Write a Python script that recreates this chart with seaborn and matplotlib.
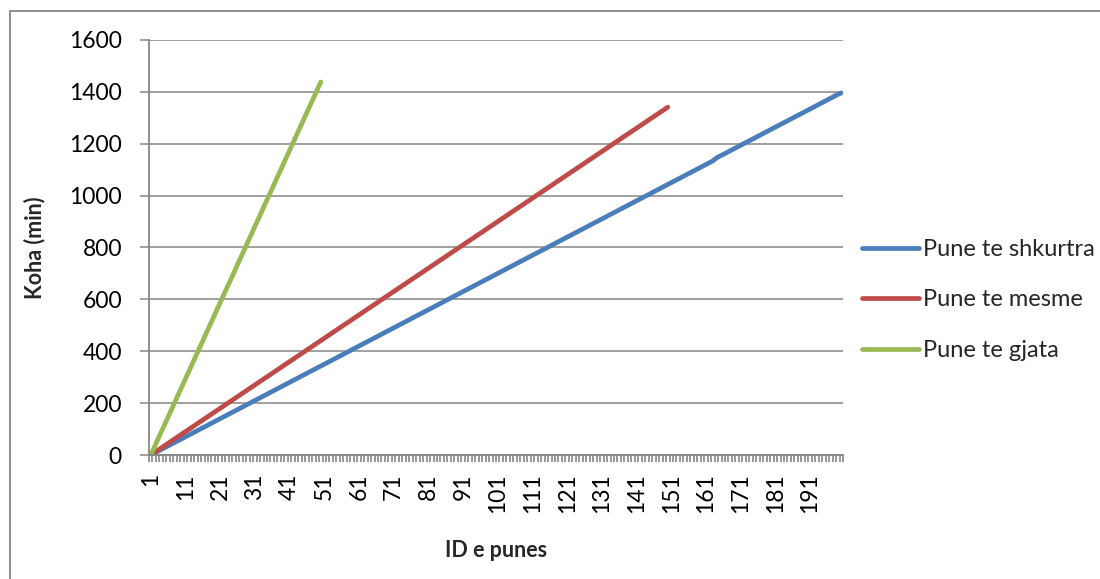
import numpy as np
import pandas as pd
import matplotlib
matplotlib.use("Agg")
import matplotlib.pyplot as plt
from matplotlib.patches import Rectangle
import seaborn as sns

# Cumulative completion time (minutes) for each job, by job class
short_jobs = [
    0, 7, 14, 21, 28, 35, 42, 49, 56, 63,
    70, 77, 84, 91, 98, 105, 112, 119, 126, 133,
    140, 147, 154, 161, 168, 175, 182, 189, 196, 203,
    210, 217, 224, 231, 238, 245, 252, 259, 266, 273,
    280, 287, 294, 301, 308, 315, 322, 329, 336, 343,
    350, 357, 364, 371, 378, 385, 392, 399, 406, 413,
    420, 427, 434, 441, 448, 455, 462, 469, 476, 483,
    490, 497, 504, 511, 518, 525, 532, 539, 546, 553,
    560, 567, 574, 581, 588, 595, 602, 609, 616, 623,
    630, 637, 644, 651, 658, 665, 672, 679, 686, 693,
    700, 707, 714, 721, 728, 735, 742, 749, 756, 763,
    770, 777, 784, 791, 798, 805, 812, 819, 826, 833,
    840, 847, 854, 861, 868, 875, 882, 889, 896, 903,
    910, 917, 924, 931, 938, 945, 952, 959, 966, 973,
    980, 987, 994, 1001, 1008, 1015, 1022, 1029, 1036, 1043,
    1050, 1057, 1064, 1071, 1078, 1085, 1092, 1099, 1106, 1113,
    1120, 1127, 1134, 1145, 1152, 1159, 1166, 1173, 1180, 1187,
    1194, 1201, 1208, 1215, 1222, 1229, 1236, 1243, 1250, 1257,
    1264, 1271, 1278, 1285, 1292, 1299, 1306, 1313, 1320, 1327,
    1334, 1341, 1348, 1355, 1362, 1369, 1376, 1383, 1390, 1396,
]
medium_jobs = [
    0, 9, 18, 27, 36, 45, 54, 63, 72, 81,
    90, 99, 108, 117, 126, 135, 144, 153, 162, 171,
    180, 189, 198, 207, 216, 225, 234, 243, 252, 261,
    270, 279, 288, 297, 306, 315, 324, 333, 342, 351,
    360, 369, 378, 387, 396, 405, 414, 423, 432, 441,
    450, 459, 468, 477, 486, 495, 504, 513, 522, 531,
    540, 549, 558, 567, 576, 585, 594, 603, 612, 621,
    630, 639, 648, 657, 666, 675, 684, 693, 702, 711,
    720, 729, 738, 747, 756, 765, 774, 783, 792, 801,
    810, 819, 828, 837, 846, 855, 864, 873, 882, 891,
    900, 909, 918, 927, 936, 945, 954, 963, 972, 981,
    990, 999, 1008, 1017, 1026, 1035, 1044, 1053, 1062, 1071,
    1080, 1089, 1098, 1107, 1116, 1125, 1134, 1143, 1152, 1161,
    1170, 1179, 1188, 1197, 1206, 1215, 1224, 1233, 1242, 1251,
    1260, 1269, 1278, 1287, 1296, 1305, 1314, 1323, 1332, 1341,
]
long_jobs = [
    0, 29, 59, 88, 117, 147, 176, 205, 235, 264,
    294, 323, 352, 382, 411, 440, 470, 499, 528, 558,
    587, 616, 646, 675, 704, 734, 763, 792, 822, 851,
    881, 910, 939, 969, 998, 1027, 1057, 1086, 1115, 1145,
    1174, 1203, 1233, 1262, 1291, 1321, 1350, 1379, 1409, 1438,
]
series_names = ["Pune te shkurtra", "Pune te mesme", "Pune te gjata"]
series_colors = ["#4A7EBB", "#BE4B48", "#98B954"]
y_ticks = [0, 200, 400, 600, 800, 1000, 1200, 1400, 1600]
x_tick_labels = [1, 11, 21, 31, 41, 51, 61, 71, 81, 91,
                 101, 111, 121, 131, 141, 151, 161, 171, 181, 191]
n_categories = 200

frames = []
for name, vals in zip(series_names, [short_jobs, medium_jobs, long_jobs]):
    frames.append(pd.DataFrame({
        "ID e punes": np.arange(1, len(vals) + 1),
        "Koha (min)": vals,
        "Seria": name,
    }))
df = pd.concat(frames, ignore_index=True)

sns.set_style("white")
plt.rcParams["font.family"] = ["Lato", "DejaVu Sans"]

W, H = 1100, 579
fig = plt.figure(figsize=(W / 100, H / 100), dpi=100)
ax = fig.add_axes([149 / W, 1 - 455 / H, (843 - 149) / W, (455 - 40) / H])

grey = "#868686"
sns.lineplot(data=df, x="ID e punes", y="Koha (min)", hue="Seria",
             hue_order=series_names, palette=series_colors,
             linewidth=3.4, ax=ax, legend=True)
for ln in ax.get_lines():
    ln.set_solid_capstyle("round")
    ln.set_solid_joinstyle("round")

ax.set_xlim(0.5, n_categories + 0.5)
ax.set_ylim(0, 1600)
ax.set_yticks(y_ticks)
ax.set_yticklabels([str(v) for v in y_ticks])
ax.yaxis.grid(True, color=grey, linewidth=1.1)
ax.xaxis.grid(False)
ax.set_axisbelow(True)

ax.set_xticks(x_tick_labels)
ax.set_xticklabels([str(v) for v in x_tick_labels], rotation=90, va="top")
ax.set_xticks(np.arange(0.5, n_categories + 1, 1.0), minor=True)
ax.tick_params(axis="x", which="major", length=0, pad=13, labelsize=16.5,
               colors="black")
ax.tick_params(axis="x", which="minor", length=5, width=1.2, color=grey,
               direction="out", bottom=True)
ax.tick_params(axis="y", which="major", length=6.5, width=1.1, color=grey,
               direction="out", left=True, pad=13, labelsize=16.5,
               labelcolor="black")

for side in ["top", "right"]:
    ax.spines[side].set_visible(False)
for side in ["left", "bottom"]:
    ax.spines[side].set_color(grey)
    ax.spines[side].set_linewidth(1.3)

ax.set_xlabel("ID e punes", fontsize=15.5, fontweight="bold")
ax.set_ylabel("Koha (min)", fontsize=15.5, fontweight="bold")
ax.xaxis.set_label_coords(0.5, -(540 - 455) / (455 - 40))
ax.yaxis.set_label_coords(-(149 - 45) / (843 - 149), 0.5)

handles, labels = ax.get_legend_handles_labels()
ax.legend(handles, labels, loc="center left",
          bbox_to_anchor=(862 / W, 1 - 300 / H),
          bbox_transform=fig.transFigure, frameon=False, fontsize=17,
          handlelength=2.4, handletextpad=0.18, labelspacing=1.25,
          borderpad=0, borderaxespad=0)

fig.add_artist(Rectangle((9.5 / W, -0.1), 1.2, 1 - 10.5 / H + 0.1,
                         transform=fig.transFigure, fill=False,
                         edgecolor=grey, linewidth=1.3))

fig.savefig("out.png", dpi=100)
